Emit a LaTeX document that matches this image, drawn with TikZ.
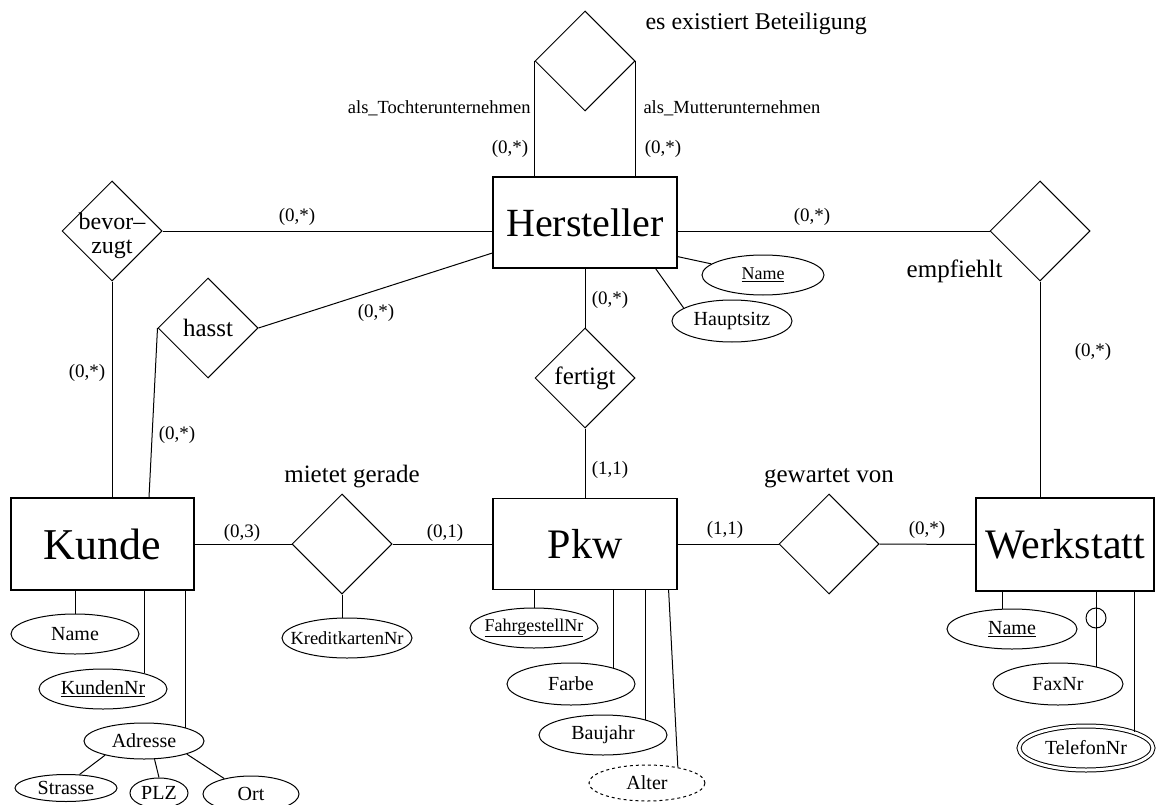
\documentclass[tikz,border=0pt]{standalone}
\usepackage{fontspec}
\setmainfont{Liberation Serif}
\usetikzlibrary{shapes.geometric, positioning}

\begin{document}
\begin{tikzpicture}[
    x=1pt, y=-1pt,
    line width=1pt,
    % Styles
    entity/.style={rectangle, draw, line width=1.2pt, minimum width=184pt, minimum height=91pt, inner sep=2pt, font=\fontsize{42}{48}\selectfont},
    relation/.style={diamond, draw, minimum width=100pt, minimum height=100pt, inner sep=0pt},
    attr/.style={ellipse, draw, minimum width=128pt, minimum height=40pt, inner sep=0pt, font=\fontsize{20}{24}\selectfont},
    rellabel/.style={inner sep=0pt, font=\fontsize{25}{22}\selectfont},
    card/.style={inner sep=0pt, font=\fontsize{19}{22}\selectfont},
    role/.style={inner sep=0pt, font=\fontsize{18.5}{22}\selectfont}
]
    \useasboundingbox (0,0) rectangle (1156,805);

    % Entities
    \node[entity, font=\fontsize{40}{48}\selectfont] (hersteller) at (585,222.5) {Hersteller};
    \node[entity, minimum width=183pt, minimum height=92pt, font=\fontsize{44}{50}\selectfont] (kunde) at (102.5,544) {Kunde};
    \node[entity] (pkw) at (585,544) {Pkw};
    \node[entity, minimum width=178pt, minimum height=93pt] (werkstatt) at (1065,544.5) {Werkstatt};

    % Relationships
    \node[relation] (beteil) at (585,61) {};
    \node[relation, label={[rellabel, font=\fontsize{24}{24}\selectfont, align=center, yshift=-5pt]center:bevor–\\zugt}] (bevorzugt) at (112,231) {};
    \node[relation, label={[rellabel]center:hasst}] (hasst) at (208,328) {};
    \node[relation, label={[rellabel]center:fertigt}] (fertigt) at (585,378) {};
    \node[relation] (empfiehlt) at (1040,231) {};
    \node[relation] (mietet) at (342,544) {};
    \node[relation] (gewartet) at (829,544) {};

    \node[rellabel, font=\fontsize{24}{22}\selectfont, anchor=base west] (beteiltext) at (645,30) {es existiert Beteiligung};
    \node[rellabel, anchor=base east] (empfiehlttext) at (1003,277) {empfiehlt};
    \node[rellabel, above=5.5pt of mietet, xshift=10pt] (miettext) {mietet gerade};
    \node[rellabel, above=5.5pt of gewartet] (gewarttext) {gewartet von};

    % Attributes
    \node[attr, font=\fontsize{18}{22}\selectfont, minimum width=122pt] (hname) at (763,275) {\underline{Name}};
    \node[attr, minimum width=120pt, minimum height=42pt] (hsitz) at (732,321) {Hauptsitz};
    \node[attr] (kname) at (75,634) {Name};
    \node[attr] (knr) at (103,689) {\underline{KundenNr}};
    \node[attr, minimum width=120pt, minimum height=36pt] (kadr) at (144,741) {Adresse};
    \node[attr, minimum width=102pt, minimum height=27pt] (kstr) at (66,788) {Strasse};
    \node[attr, minimum width=58pt, minimum height=30pt] (kplz) at (159,793) {PLZ};
    \node[attr, minimum width=96pt, minimum height=36pt] (kort) at (251,794) {Ort};
    \node[attr, font=\fontsize{18.5}{22}\selectfont, minimum width=130pt, inner xsep=-12pt] (kredit) at (347,638) {KreditkartenNr};
    \node[attr, font=\fontsize{18}{22}\selectfont, inner xsep=-5pt] (fgnr) at (534,628) {\underline{FahrgestellNr}};
    \node[attr, minimum height=42pt] (farbe) at (571,684) {Farbe};
    \node[attr] (baujahr) at (603,735) {Baujahr};
    \node[attr, dashed, minimum width=116pt, minimum height=36pt] (alter) at (647,783) {Alter};
    \node[attr, minimum width=130pt] (wname) at (1012,629) {\underline{Name}};
    \node[circle, draw, minimum size=20pt, inner sep=0pt] (faxopt) at (1096,618) {};
    \node[attr, minimum width=130pt, minimum height=42pt] (fax) at (1058,684) {FaxNr};
    \node[attr, double, double distance=3pt, minimum width=134pt, minimum height=44pt] (tel) at (1086,748) {TelefonNr};

    % Relationship lines
    \draw (beteil.west) -- (beteil.west |- hersteller.north);
    \draw (beteil.east) -- (beteil.east |- hersteller.north);
    \draw (bevorzugt.east) -- (bevorzugt.east -| hersteller.west);
    \draw (bevorzugt.south) -- (bevorzugt.south |- kunde.north);
    \draw (hasst.west) -- ([xshift=46.5pt]kunde.north);
    \draw (hasst.east) -- ([yshift=-30.5pt]hersteller.west);
    \draw (hersteller.south) -- (fertigt.north);
    \draw (fertigt.south) -- (pkw.north);
    \draw (empfiehlt.west -| hersteller.east) -- (empfiehlt.west);
    \draw (empfiehlt.south) -- (empfiehlt.south |- werkstatt.north);
    \draw (kunde.east) -- (mietet.west);
    \draw (mietet.east) -- (pkw.west);
    \draw (pkw.east) -- (gewartet.west);
    \draw (gewartet.east) -- (werkstatt.west);
    \draw (mietet.south) -- (mietet.south |- kredit.north);

    % Attribute lines
    \draw ([yshift=12pt]hersteller.south east) -- (hname);
    \draw ([xshift=-22pt]hersteller.south east) -- (hsitz.165);
    \draw (kname.north |- kunde.south) -- (kname.north);
    \draw (knr.21 |- kunde.south) -- (knr.21);
    \draw (kadr.18 |- kunde.south) -- (kadr.18);
    \draw (kadr.200) -- (kstr.45);
    \draw (kadr.-60) -- (kplz.north);
    \draw (kadr.-17) -- (kort.150);
    \draw (fgnr.north |- pkw.south) -- (fgnr.north);
    \draw (farbe.21 |- pkw.south) -- (farbe.21);
    \draw (baujahr.20 |- pkw.south) -- (baujahr.20);
    \draw ([xshift=-9pt]pkw.south east) -- (alter.27);
    \draw (wname.114 |- werkstatt.south) -- (wname.114);
    \draw (fax.24 |- werkstatt.south) -- (fax.24);
    \draw (tel.18 |- werkstatt.south) -- (tel.18);

    % Roles and cardinalities
    \node[role, anchor=east] (tochter) at (531,108) {als\_Tochterunternehmen};
    \node[role, anchor=west] (mutter) at (643,108) {als\_Mutterunternehmen};
    \node[card] (c-tochter) at (510,149) {(0,*)};
    \node[card] (c-mutter) at (663,149) {(0,*)};
    \node[card] (c-bev-her) at (297,217) {(0,*)};
    \node[card] (c-bev-kun) at (87,373) {(0,*)};
    \node[card] (c-has-kun) at (177,435) {(0,*)};
    \node[card] (c-has-her) at (376,313) {(0,*)};
    \node[card] (c-her-fer) at (610,300) {(0,*)};
    \node[card] (c-fer-pkw) at (610,470) {(1,1)};
    \node[card] (c-her-emp) at (812,217) {(0,*)};
    \node[card] (c-emp-wer) at (1093,352) {(0,*)};
    \node[card] (c-kun-mie) at (242,533) {(0,3)};
    \node[card] (c-mie-pkw) at (445,533) {(0,1)};
    \node[card] (c-pkw-gew) at (725,530) {(1,1)};
    \node[card] (c-gew-wer) at (927,530) {(0,*)};
\end{tikzpicture}
\end{document}
